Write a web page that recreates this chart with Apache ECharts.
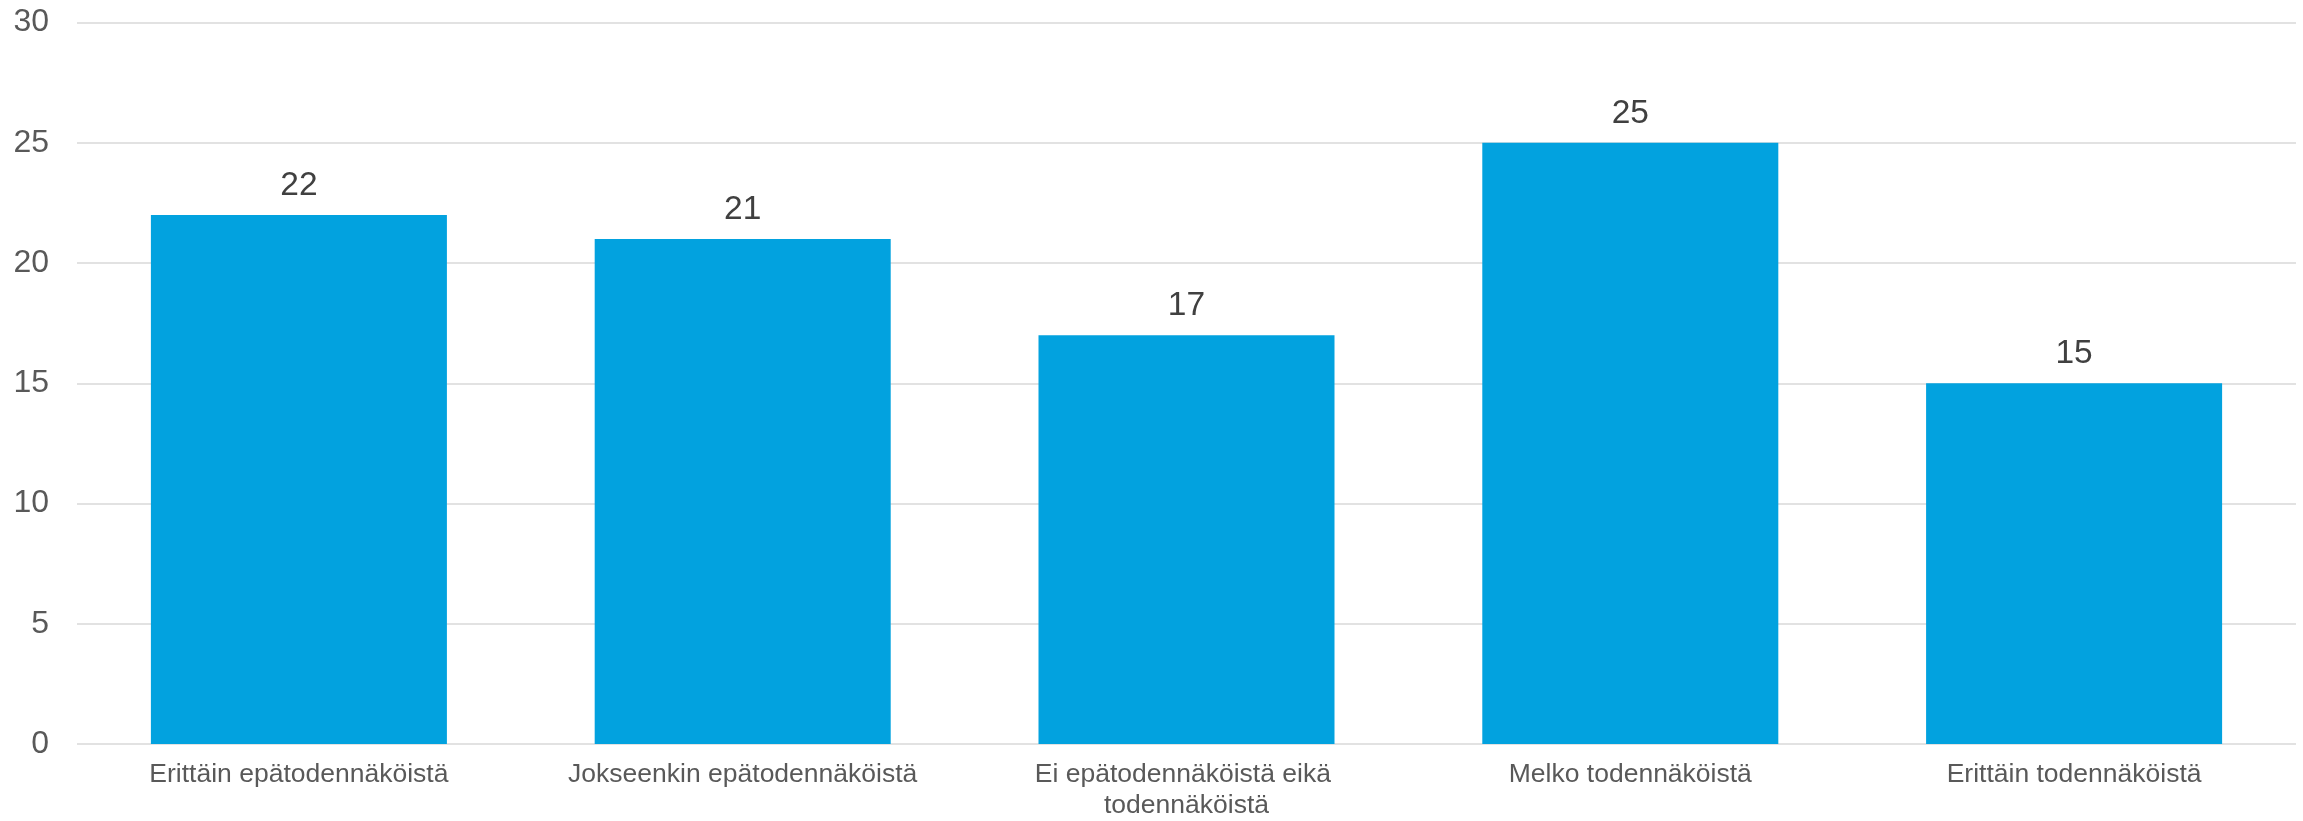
<!DOCTYPE html>
<html>
<head>
<meta charset="utf-8">
<script src="https://cdn.jsdelivr.net/npm/echarts@6/dist/echarts.min.js"></script>
<style>
html,body{margin:0;padding:0;background:#fff;}
#chart{width:2303px;height:821px;}
</style>
</head>
<body>
<div id="chart"></div>
<script>
const categories = [
  "Erittäin epätodennäköistä",
  "Jokseenkin epätodennäköistä",
  "Ei epätodennäköistä eikä todennäköistä",
  "Melko todennäköistä",
  "Erittäin todennäköistä"
];
const values = [22, 21, 17, 25, 15];
const yTicks = { min: 0, max: 30, interval: 5 };

const FONT = "'Liberation Sans', Arial, sans-serif";
const chart = echarts.init(document.getElementById('chart'), null, { renderer: 'canvas' });
chart.setOption({
  animation: false,
  backgroundColor: '#ffffff',
  grid: { left: 77, right: 7, top: 22.5, bottom: 76, containLabel: false },
  xAxis: {
    type: 'category',
    data: categories,
    axisLine: { show: false },
    axisTick: { show: false },
    axisLabel: {
      interval: 0,
      margin: 15,
      color: '#595959',
      fontFamily: FONT,
      fontSize: 26.5,
      lineHeight: 31,
      width: 400,
      overflow: 'break',
      align: 'center'
    }
  },
  yAxis: {
    type: 'value',
    min: yTicks.min,
    max: yTicks.max,
    interval: yTicks.interval,
    axisLine: { show: false },
    axisTick: { show: false },
    axisLabel: { color: '#595959', fontFamily: FONT, fontSize: 32, margin: 28 },
    splitLine: { show: true, lineStyle: { color: '#d9d9d9', width: 1.5 } }
  },
  series: [{
    type: 'bar',
    data: values,
    barWidth: '66.7%',
    itemStyle: { color: '#02A2DF' },
    label: {
      show: true,
      position: 'top',
      distance: 12,
      color: '#404040',
      fontFamily: FONT,
      fontSize: 33.5
    }
  }]
});
</script>
</body>
</html>
